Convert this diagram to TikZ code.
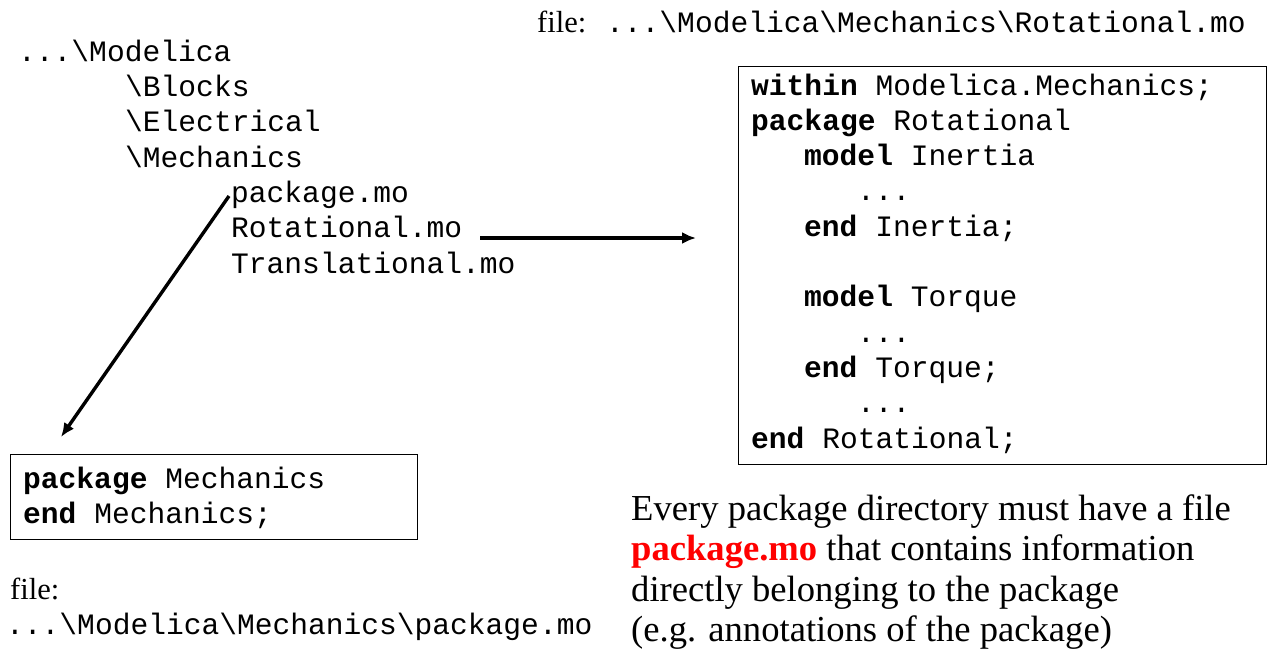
\documentclass[tikz,border=0pt]{standalone}
\usepackage{fontspec}
\setmainfont{Liberation Serif}
\setmonofont{Liberation Mono}
\usetikzlibrary{arrows.meta}
\definecolor{keyred}{RGB}{255,0,0}
\tikzset{
  code/.style={anchor=base west, inner sep=0pt, font=\ttfamily\fontsize{29.6}{35.3}\selectfont},
  serif/.style={anchor=base west, inner sep=0pt, font=\rmfamily\fontsize{30.5}{35}\selectfont},
  para/.style={anchor=base west, inner sep=0pt, font=\rmfamily\fontsize{36.6}{40.5}\selectfont},
  frame/.style={draw=black, line width=1.2pt, inner sep=0pt, anchor=north west},
  arr/.style={line width=3.8pt, -{Latex[length=14pt,width=12pt]}}
}
\begin{document}
\begin{tikzpicture}[x=1pt,y=-1pt]
\useasboundingbox (0,0) rectangle (1268,659);
% directory tree
\node[code] (modelica) at (18,61) {...\textbackslash Modelica};
\node[code] (blocks) at (125,96.3) {\textbackslash Blocks};
\node[code] (electrical) at (125,131.6) {\textbackslash Electrical};
\node[code] (mechanics) at (125,167) {\textbackslash Mechanics};
\node[code] (pkg) at (231,202.3) {package.mo};
\node[code] (rot) at (231,237.6) {Rotational.mo};
\node[code] (trans) at (231,273) {Translational.mo};
% top file label
\node[serif] (file1) at (537,32) {file:};
\node[code] (path1) at (606,32) {...\textbackslash Modelica\textbackslash Mechanics\textbackslash Rotational.mo};
% right box
\node[frame, minimum width=528pt, minimum height=398pt] (rbox) at (738,66) {};
\node[code] (r1) at (751,95) {\textbf{within} Modelica.Mechanics;};
\node[code] (r2) at (751,130.3) {\textbf{package} Rotational};
\node[code] (r3) at (804,165.6) {\textbf{model} Inertia};
\node[code] (r4) at (857,200.9) {...};
\node[code] (r5) at (804,236.2) {\textbf{end} Inertia;};
\node[code] (r6) at (804,306.8) {\textbf{model} Torque};
\node[code] (r7) at (857,342.1) {...};
\node[code] (r8) at (804,377.4) {\textbf{end} Torque;};
\node[code] (r9) at (857,412.7) {...};
\node[code] (r10) at (751,448) {\textbf{end} Rotational;};
% left box
\node[frame, minimum width=407pt, minimum height=85pt] (lbox) at (10,454) {};
\node[code] (l1) at (23,488) {\textbf{package} Mechanics};
\node[code] (l2) at (23,523) {\textbf{end} Mechanics;};
% bottom file label
\node[serif] (file2) at (10,599) {file:};
\node[code] (path2) at (6,634) {...\textbackslash Modelica\textbackslash Mechanics\textbackslash package.mo};
% paragraph
\node[para] (p1) at (631,520) {Every package directory must have a file};
\node[para] (p2) at (631,560.5) {\textcolor{keyred}{\textbf{package.mo}} that contains information};
\node[para] (p3) at (631,601) {directly belonging to the package};
\node[para] (p4) at (631,641.5) {(e.g. annotations of the package)};
% arrows
\coordinate (a1s) at (480,238);
\coordinate (a1e) at (696,238);
\coordinate (a2s) at (229,196);
\coordinate (a2e) at (61,437);
\draw[arr] (a1s) -- (a1e);
\draw[arr, line width=3.4pt] (a2s) -- (a2e);
\end{tikzpicture}
\end{document}
